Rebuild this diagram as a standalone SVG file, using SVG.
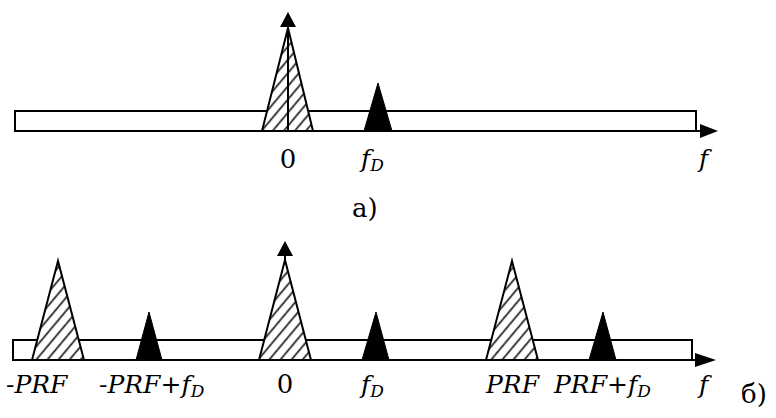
<svg xmlns="http://www.w3.org/2000/svg" width="776" height="418" viewBox="0 0 776 418">
<style>
.band{fill:#fff;stroke:#000;stroke-width:2}
.ax{stroke:#000;stroke-width:2;fill:none}
.hat{fill:url(#hatch);stroke:#000;stroke-width:2;stroke-linejoin:miter}
.sig{fill:#000;stroke:#000;stroke-width:1}
.t{font-family:'DejaVu Serif','Liberation Serif',serif;fill:#000}
.lbl{font-size:25px;font-style:italic}
.up{font-size:26px}
.sub{font-size:17px}
</style>
<defs>
<pattern id="hatch" patternUnits="userSpaceOnUse" width="8.5" height="8.5" patternTransform="rotate(-50)">
<rect width="8.5" height="8.5" fill="#fff"/>
<line x1="0" y1="4" x2="8.5" y2="4" stroke="#2a2a2a" stroke-width="1.8"/>
</pattern>
</defs>
<g id="band-a">
<rect class="band" x="15" y="111" width="681" height="20"/>
</g>
<g id="axis-a">
<line class="ax" x1="15" y1="131" x2="702" y2="131"/>
<polygon points="700,124 718,131 700,138" fill="#000"/>
</g>
<g id="clutter-a">
<polygon class="hat" points="288,28 262,131 313,131"/>
</g>
<g id="target-a">
<polygon class="sig" points="378,83 364,131 392,131"/>
</g>
<g id="connectors">
<line class="ax" x1="288" y1="131" x2="288" y2="25"/>
<polygon points="280,27 296,27 288,12" fill="#000"/>
<line class="ax" x1="285" y1="360" x2="285" y2="254"/>
<polygon points="277,256 293,256 285,241" fill="#000"/>
</g>
<g id="labels-a">
<text class="t up" x="288" y="168" text-anchor="middle">0</text>
<text class="t lbl" x="361" y="167">f<tspan class="sub" dy="4">D</tspan></text>
<text class="t lbl" x="699" y="167">f</text>
<text class="t up" x="352" y="217">a)</text>
</g>
<g id="band-b">
<rect class="band" x="13" y="340" width="679" height="20"/>
</g>
<g id="axis-b">
<line class="ax" x1="13" y1="360" x2="698" y2="360"/>
<polygon points="695,353 716,360 695,367" fill="#000"/>
</g>
<g id="clutter-b1"><polygon class="hat" points="58,261 32,360 84,360"/></g>
<g id="target-b1"><polygon class="sig" points="149,312 136,360 162,360"/></g>
<g id="clutter-b2"><polygon class="hat" points="285,260 259,360 311,360"/></g>
<g id="target-b2"><polygon class="sig" points="376,312 362,360 389,360"/></g>
<g id="clutter-b3"><polygon class="hat" points="512,261 486,360 538,360"/></g>
<g id="target-b3"><polygon class="sig" points="603,312 589,360 616,360"/></g>
<g id="labels-b">
<text class="t lbl" x="6" y="393">-PRF</text>
<text class="t lbl" x="99" y="393">-PRF+f<tspan class="sub" dy="4">D</tspan></text>
<text class="t up" x="285" y="393" text-anchor="middle">0</text>
<text class="t lbl" x="361" y="393">f<tspan class="sub" dy="4">D</tspan></text>
<text class="t lbl" x="486" y="393">PRF</text>
<text class="t lbl" x="554" y="393">PRF+f<tspan class="sub" dy="4">D</tspan></text>
<text class="t lbl" x="699" y="393">f</text>
<text class="t up" x="741" y="403">б)</text>
</g>
</svg>
